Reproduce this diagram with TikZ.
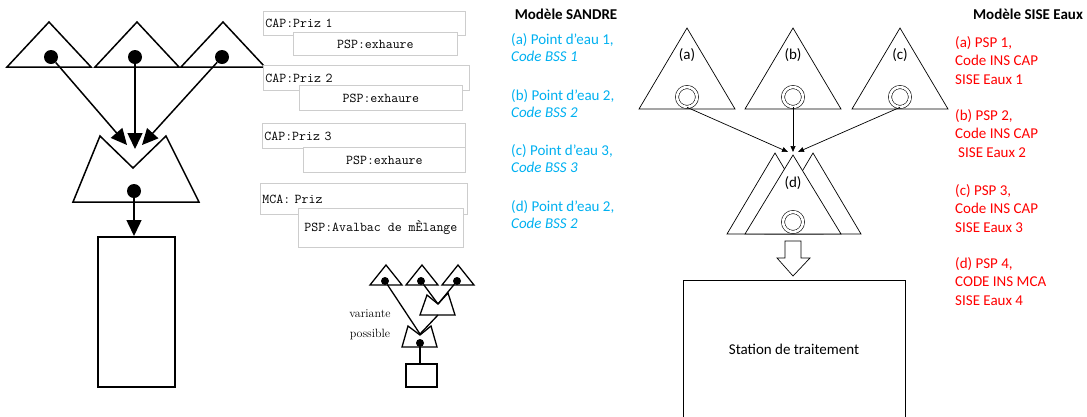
\documentclass[tikz,border=0pt]{standalone}
\usepackage{fontspec}
\newfontfamily\calibri{Carlito}
\usetikzlibrary{arrows.meta,positioning,calc}
\definecolor{sandre}{RGB}{0,176,240}
\definecolor{sise}{RGB}{255,0,0}
\definecolor{boxgray}{RGB}{205,205,205}
\tikzset{
  heavy/.style={line width=1.5pt, line join=miter},
  fine/.style={line width=0.7pt},
  dot/.style={circle, fill, inner sep=0pt, minimum size=14pt},
  small dot/.style={circle, fill, inner sep=0pt, minimum size=8pt},
  well/.style={circle, draw, double, double distance=2.6pt, line width=0.6pt, inner sep=0pt, minimum size=20pt},
  big head/.style={-{Triangle[length=16pt,width=15pt]}},
  small head/.style={-{Triangle[length=6pt,width=5pt]}},
  capbox/.style={draw=boxgray, line width=0.8pt, fill=white, anchor=north west, inner sep=2pt, align=left, font=\ttfamily\fontsize{13.5}{14}\selectfont},
  pspbox/.style={capbox, align=center},
  sandre text/.style={text=sandre, anchor=base west, align=left, inner sep=0pt, font=\calibri\fontsize{15}{17}\selectfont},
  sise text/.style={text=sise, anchor=base west, align=left, inner sep=0pt, font=\calibri\fontsize{15}{18.4}\selectfont},
  model/.style={anchor=base, inner sep=0pt, font=\calibri\bfseries\fontsize{15}{17}\selectfont},
  tag/.style={inner sep=0pt, font=\calibri\fontsize{15}{17}\selectfont},
}
\begin{document}
\begin{tikzpicture}[x=1pt, y=-1pt]
	\useasboundingbox (0,0) rectangle (1087,416);
	% schema de gauche
	\foreach \x in {49,137,223}
		\draw[heavy] (\x-42,67) -- (\x,22) -- (\x+42,67) -- cycle;
	\foreach \i/\x in {1/51,2/135,3/222}
		\node[dot] (p\i) at (\x,57) {};
	\draw[heavy] (100,136) -- (133,168) -- (166,136) -- (199,202) -- (73,202) -- cycle;
	\coordinate (t1) at (127,145);
	\coordinate (t2) at (135,149);
	\coordinate (t3) at (142,145);
	\draw[heavy, big head] (p1) -- (t1);
	\draw[heavy, big head] (p2) -- (t2);
	\draw[heavy, big head] (p3) -- (t3);
	\node[dot] (p4) at (134,191) {};
	\node[draw, line width=2.4pt, minimum width=77pt, minimum height=150pt, anchor=north] (usine) at (136.5,236) {};
	\draw[heavy, big head] (p4) -- (p4 |- usine.north);
	% boites
	\node[capbox, text width=198pt, minimum height=24pt] (cap1) at (263,11) {CAP:Priz 1};
	\node[pspbox, minimum width=164pt, minimum height=23pt] (psp1) at (293,32) {PSP:exhaure};
	\node[capbox, text width=202pt, minimum height=25pt] (cap2) at (263,65) {CAP:Priz 2};
	\node[pspbox, minimum width=163pt, minimum height=25pt] (psp2) at (299,85) {PSP:exhaure};
	\node[capbox, text width=199pt, minimum height=25pt] (cap3) at (262,123) {CAP:Priz 3};
	\node[pspbox, minimum width=162pt, minimum height=25pt] (psp3) at (303,147) {PSP:exhaure};
	\node[capbox, text width=203pt, minimum height=31pt] (mca) at (260,183) {MCA: Priz};
	\node[pspbox, minimum width=165pt, minimum height=39pt] (psp4) at (298,208) {PSP:Avalbac de mÈlange};
	% variante
	\node[align=center, inner sep=0pt, font=\fontsize{12}{20}\selectfont] (variante) at (370,325) {variante\\possible};
	\foreach \x in {386,422,458}
		\draw[heavy, line width=1.3pt] (\x-16,285) -- (\x,265) -- (\x+16,285) -- cycle;
	\foreach \i/\x in {1/385,2/421,3/457}
		\node[small dot] (q\i) at (\x,281) {};
	\draw[heavy, line width=1.3pt] (427,295) -- (438,304) -- (448,293) -- (455,315) -- (420,315) -- cycle;
	\draw[heavy, line width=1.3pt] (408,326) -- (420,335) -- (431,326) -- (437,347) -- (402,347) -- cycle;
	\coordinate (v1) at (438,304);
	\coordinate (v2) at (420,334);
	\coordinate (v3) at (438,315);
	\draw[line width=1.3pt] (q2) -- (v1);
	\draw[line width=1.3pt] (q3) -- (v1);
	\draw[line width=1.3pt] (q1) -- (v2);
	\draw[line width=1.3pt] (v3) -- (v2);
	\node[small dot] (q4) at (420,343) {};
	\node[draw, line width=2.4pt, minimum width=31pt, minimum height=23pt, anchor=north] (mini) at (421.5,363) {};
	\draw[line width=1.3pt] (q4) -- (q4 |- mini.north);
	% textes SANDRE
	\node[model] (sandre) at (566,19.5) {Modèle SANDRE};
	\foreach \n/\y/\k in {a/61/1, b/117/2, c/172.5/3, d/228/2}
		\node[sandre text] (s\n) at (511,\y) {(\n) Point d’eau \k,\\\textit{Code BSS \k}};
	% schema de droite
	\foreach \n/\x in {a/687,b/793,c/900} {
		\draw[fine] (\x-48,109) -- (\x,28) -- (\x+48,109) -- cycle;
		\node[tag] (l\n) at (\x,55) {(\n)};
		\node[well] (w\n) at (\x,97) {};
	}
	\draw[fine, fill=white] (727,234) -- (775,153) -- (823,234) -- cycle;
	\draw[fine, fill=white] (765,234) -- (813,153) -- (861,234) -- cycle;
	\draw[fine, fill=white] (745,234) -- (793,155) -- (841,234) -- cycle;
	\node[tag] (ld) at (793,183) {(d)};
	\node[well] (wd) at (793,222) {};
	\coordinate (ta) at (788,152);
	\coordinate (tb) at (793,152);
	\coordinate (tc) at (798,152);
	\draw[fine, small head] (wa.south) -- (ta);
	\draw[fine, small head] (wb.south) -- (tb);
	\draw[fine, small head] (wc.south) -- (tc);
	\node[draw, fine, minimum width=222pt, minimum height=138pt, anchor=north, font=\calibri\fontsize{15}{17}\selectfont] (station) at (794,280) {Station de traitement};
	\coordinate (dbot) at (793,234);
	\draw[fine] (dbot) ++(-8,7) -- ++(16,0) -- ++(0,17) -- ++(9,0) -- ++(-17,18) -- ++(-16,-18) -- ++(8,0) -- cycle;
	% textes SISE
	\node[model] (sise) at (1028,19) {Modèle SISE Eaux};
	\node[sise text] (ra) at (955,84) {(a) PSP 1,\\Code INS CAP\\SISE Eaux 1};
	\node[sise text] (rb) at (955,157) {(b) PSP 2,\\Code INS CAP\\\hspace*{3pt}SISE Eaux 2};
	\node[sise text] (rc) at (955,232) {(c) PSP 3,\\Code INS CAP\\SISE Eaux 3};
	\node[sise text] (rd) at (955,305) {(d) PSP 4,\\CODE INS MCA\\SISE Eaux 4};
\end{tikzpicture}
\end{document}
